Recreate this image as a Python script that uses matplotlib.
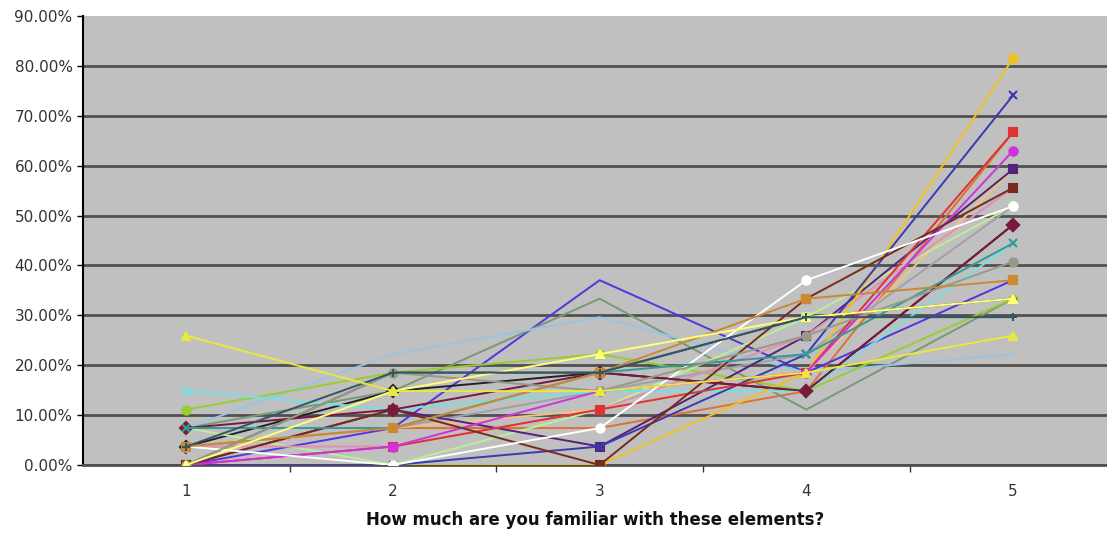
import numpy as np
import matplotlib.pyplot as plt
from matplotlib.ticker import FuncFormatter, FixedLocator

# answers per category (out of 27 respondents), one list per element
categories = [1, 2, 3, 4, 5]
n_resp = 27

s_gold = [0, 0, 0, 5, 22]
s_blue_x = [0, 0, 1, 6, 20]
s_red = [0, 1, 3, 5, 18]
s_orange = [1, 2, 2, 4, 18]
s_magenta = [0, 1, 4, 5, 17]
s_lightorange = [1, 2, 3, 5, 16]
s_brown = [0, 3, 0, 9, 15]
s_white = [1, 0, 2, 10, 14]
s_darkred = [2, 3, 5, 4, 13]
s_teal = [2, 2, 5, 6, 12]
s_gray = [0, 5, 4, 7, 11]
s_ochre = [1, 2, 5, 9, 10]
s_paleyellow = [0, 4, 6, 8, 9]
s_slate = [1, 5, 5, 8, 8]
s_yellow = [7, 4, 4, 5, 7]
s_purple = [0, 2, 10, 5, 10]
s_sage = [2, 4, 9, 3, 9]
s_skyblue = [2, 6, 8, 5, 6]
s_black = [1, 4, 5, 4, 13]
s_green = [3, 5, 6, 4, 9]
s_mint = [2, 0, 3, 8, 14]
s_grayx = [1, 2, 4, 6, 14]
s_violet = [0, 3, 1, 7, 16]
s_cyan = [4, 3, 4, 4, 12]
s_darkgray = [0, 5, 5, 8, 9]
s_pink = [1, 1, 3, 7, 15]

# background lines first, then the ones whose markers show at the right end
series = [
    (s_orange, '#E07030', None),
    (s_lightorange, '#F5C080', '+'),
    (s_purple, '#5533DD', None),
    (s_sage, '#779977', None),
    (s_skyblue, '#99C4E4', None),
    (s_black, '#222222', 'D'),
    (s_green, '#99CC33', 'o'),
    (s_mint, '#BBEE99', 's'),
    (s_grayx, '#A0A0A8', 'x'),
    (s_violet, '#552277', 's'),
    (s_cyan, '#77E0E0', 'x'),
    (s_darkgray, '#445544', '+'),
    (s_pink, '#E090B0', None),
    (s_gold, '#F0C020', 'o'),
    (s_blue_x, '#3A3AB0', 'x'),
    (s_red, '#DD3333', 's'),
    (s_magenta, '#CC33DD', 'o'),
    (s_brown, '#7A2A1A', 's'),
    (s_white, '#FFFFFF', 'o'),
    (s_darkred, '#7A1840', 'D'),
    (s_teal, '#339999', 'x'),
    (s_gray, '#999988', 'o'),
    (s_ochre, '#CC8833', 's'),
    (s_paleyellow, '#FFFF77', '^'),
    (s_slate, '#335566', '+'),
    (s_yellow, '#E8E840', '^'),
]

fig = plt.figure(figsize=(11.07, 5.33), dpi=100)
ax = fig.add_axes([0.075, 0.1276, 0.925, 0.8424])
ax.set_facecolor('#C0C0C0')
plt.rcParams['font.family'] = ['Liberation Sans', 'DejaVu Sans']

for vals, col, mk in series:
    y = np.array(vals) / n_resp
    ax.plot(categories, y, color=col, lw=1.4, marker=mk, ms=6, mew=1.5,
            mec=col, zorder=3)

ax.set_ylim(0, 0.9)
ax.set_xlim(0.5, 5.455)
ax.set_yticks(np.arange(0, 0.91, 0.1))
ax.yaxis.set_major_formatter(FuncFormatter(lambda v, p: '%.2f%%' % (v * 100)))
ax.grid(axis='y', color='#505050', lw=2, zorder=1)
ax.get_ygridlines()[-1].set_visible(False)
ax.set_axisbelow(True)

ax.set_xticks(categories)
ax.xaxis.set_minor_locator(FixedLocator([1.5, 2.5, 3.5, 4.5]))
ax.tick_params(axis='x', which='major', length=0, pad=14, labelsize=11, labelcolor='#333333')
ax.tick_params(axis='x', which='minor', length=5, width=1, color='#333333', direction='out')
ax.tick_params(axis='y', length=4, width=1, labelsize=11, labelcolor='#333333')

for s in ['top', 'right']:
    ax.spines[s].set_visible(False)
ax.spines['left'].set_color('black')
ax.spines['left'].set_linewidth(1.5)
ax.spines['bottom'].set_color('#505050')
ax.spines['bottom'].set_linewidth(2)

ax.set_xlabel('How much are you familiar with these elements?', fontsize=12,
              fontweight='bold', labelpad=8, color='#111111')

plt.savefig('out.png', dpi=100)
